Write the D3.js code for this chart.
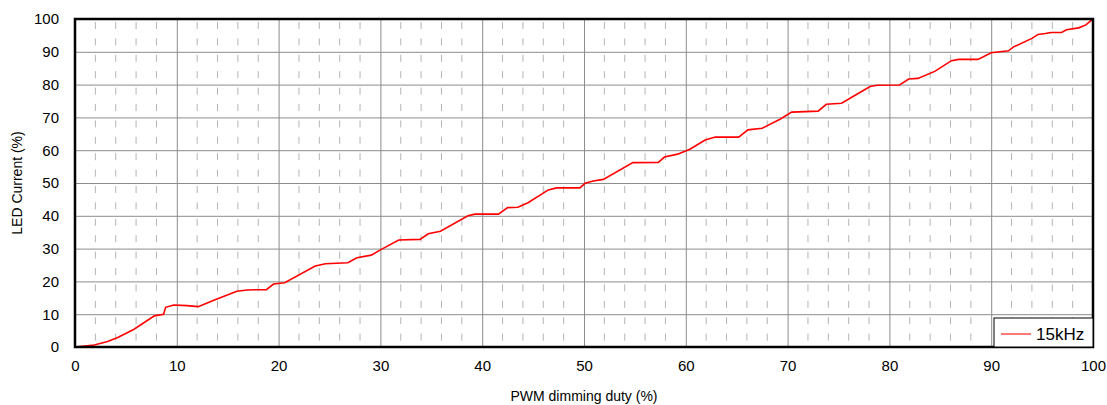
<!DOCTYPE html>
<html>
<head>
<meta charset="utf-8">
<script src="https://cdn.jsdelivr.net/npm/d3@7/dist/d3.min.js"></script>
<style>
  body { margin: 0; background: #fff; }
  text { font-family: "Liberation Sans", Arial, sans-serif; fill: #000; }
</style>
</head>
<body>
<svg width="1107" height="405"></svg>
<script>
// PWM duty (%)
var duty = [0, 1.9, 3.2, 4.2, 5.8, 7.8, 8.7, 8.9, 9.7, 11.0, 12.1, 13.7, 15.9, 16.9, 18.8, 19.5,
  20.6, 23.6, 24.6, 26.8, 27.7, 29.1, 30.0, 31.8, 33.9, 34.7, 35.9, 38.6, 39.3, 41.6,
  42.5, 43.5, 44.5, 46.5, 47.3, 49.6, 50.1, 50.9, 51.9, 54.8, 57.3, 57.9, 59.2, 60.4,
  61.9, 62.9, 65.2, 66.1, 67.5, 69.3, 70.4, 73.0, 73.8, 75.3, 77.1, 78.1, 78.8, 81.0,
  81.9, 82.8, 84.5, 86.1, 86.8, 88.7, 90.0, 91.7, 92.2, 94.0, 94.6, 95.3, 95.9, 96.9,
  97.4, 98.6, 99.3, 99.8, 100];
// LED current (%) at those duties
var current = [0, 0.6, 1.7, 2.9, 5.4, 9.5, 10.0, 12.1, 12.8, 12.6, 12.3, 14.3, 17.0, 17.4, 17.5, 19.2,
  19.6, 24.7, 25.4, 25.7, 27.2, 28.0, 29.6, 32.6, 32.8, 34.5, 35.3, 40.0, 40.5, 40.5,
  42.5, 42.6, 44.0, 47.9, 48.5, 48.5, 49.9, 50.6, 51.1, 56.2, 56.3, 57.9, 58.8, 60.3,
  63.1, 64.0, 64.0, 66.2, 66.7, 69.5, 71.6, 71.9, 74.0, 74.3, 77.6, 79.4, 79.8, 79.9,
  81.7, 81.9, 84.1, 87.3, 87.7, 87.7, 89.7, 90.3, 91.5, 94.1, 95.3, 95.6, 95.9, 95.9,
  96.7, 97.3, 98.2, 99.5, 100];
var xTicks = d3.range(0, 101, 10);
var yTicks = d3.range(0, 101, 10);
var minorX = d3.range(0, 101, 2).filter(function (v) { return v % 10 !== 0; });
var seriesName = "15kHz";

var margins = { top: 19, bottom: 58, left: 75, right: 14 };
var svg = d3.select("svg");
var chartWidth = svg.attr("width") - margins.left - margins.right;
var chartHeight = svg.attr("height") - margins.top - margins.bottom;
var g = svg.append("g").attr("transform", `translate(${margins.left},${margins.top})`);

var xScale = d3.scaleLinear([0, 100], [0, chartWidth]);
var yScale = d3.scaleLinear([0, 100], [chartHeight, 0]);

// minor dashed verticals
g.selectAll(".minor").data(minorX).enter().append("line")
  .attr("x1", d => xScale(d)).attr("x2", d => xScale(d))
  .attr("y1", 0).attr("y2", chartHeight)
  .attr("stroke", "#b4b4b4").attr("stroke-width", 1)
  .attr("stroke-dasharray", "7,9.4").attr("stroke-dashoffset", -3);

// major grid
g.append("g")
  .attr("transform", `translate(0,${chartHeight})`)
  .call(d3.axisBottom(xScale).tickValues(xTicks).tickSize(-chartHeight).tickFormat(""))
  .call(a => a.select(".domain").remove())
  .call(a => a.selectAll("line").attr("stroke", "#8c8c8c"));
g.append("g")
  .call(d3.axisLeft(yScale).tickValues(yTicks).tickSize(-chartWidth).tickFormat(""))
  .call(a => a.select(".domain").remove())
  .call(a => a.selectAll("line").attr("stroke", "#8c8c8c"));

// tick labels
g.append("g")
  .attr("transform", `translate(0,${chartHeight})`)
  .call(d3.axisBottom(xScale).tickValues(xTicks).tickSize(0).tickPadding(13))
  .call(a => a.select(".domain").remove())
  .call(a => a.selectAll("text").style("font-size", "15px").style("font-family", "Liberation Sans, Arial, sans-serif"));
g.append("g")
  .call(d3.axisLeft(yScale).tickValues(yTicks).tickSize(0).tickPadding(16))
  .call(a => a.select(".domain").remove())
  .call(a => a.selectAll("text").style("font-size", "15px").style("font-family", "Liberation Sans, Arial, sans-serif"));

// data line
var line = d3.line().x((d, i) => xScale(duty[i])).y(d => yScale(d));
g.append("path").datum(current)
  .attr("d", line)
  .attr("fill", "none").attr("stroke", "#ff0000").attr("stroke-width", 1.6);

// frame
g.append("rect").attr("width", chartWidth).attr("height", chartHeight)
  .attr("fill", "none").attr("stroke", "#000").attr("stroke-width", 2.5);

// legend
var lg = g.append("g").attr("transform", `translate(${chartWidth - 99},${chartHeight - 29})`);
lg.append("rect").attr("width", 99).attr("height", 29)
  .attr("fill", "#fff").attr("stroke", "#000").attr("stroke-width", 1);
lg.append("line").attr("x1", 7).attr("x2", 37).attr("y1", 16).attr("y2", 16)
  .attr("stroke", "#ff3030").attr("stroke-width", 1.3);
lg.append("text").attr("x", 42).attr("y", 22).style("font-size", "17px").text(seriesName);

// axis titles
svg.append("text")
  .attr("x", margins.left + chartWidth / 2).attr("y", 401)
  .attr("text-anchor", "middle").style("font-size", "14px")
  .text("PWM dimming duty (%)");
svg.append("text")
  .attr("transform", `translate(22,${margins.top + chartHeight / 2}) rotate(-90)`)
  .attr("text-anchor", "middle").style("font-size", "14px")
  .text("LED Current (%)");
</script>
</body>
</html>
